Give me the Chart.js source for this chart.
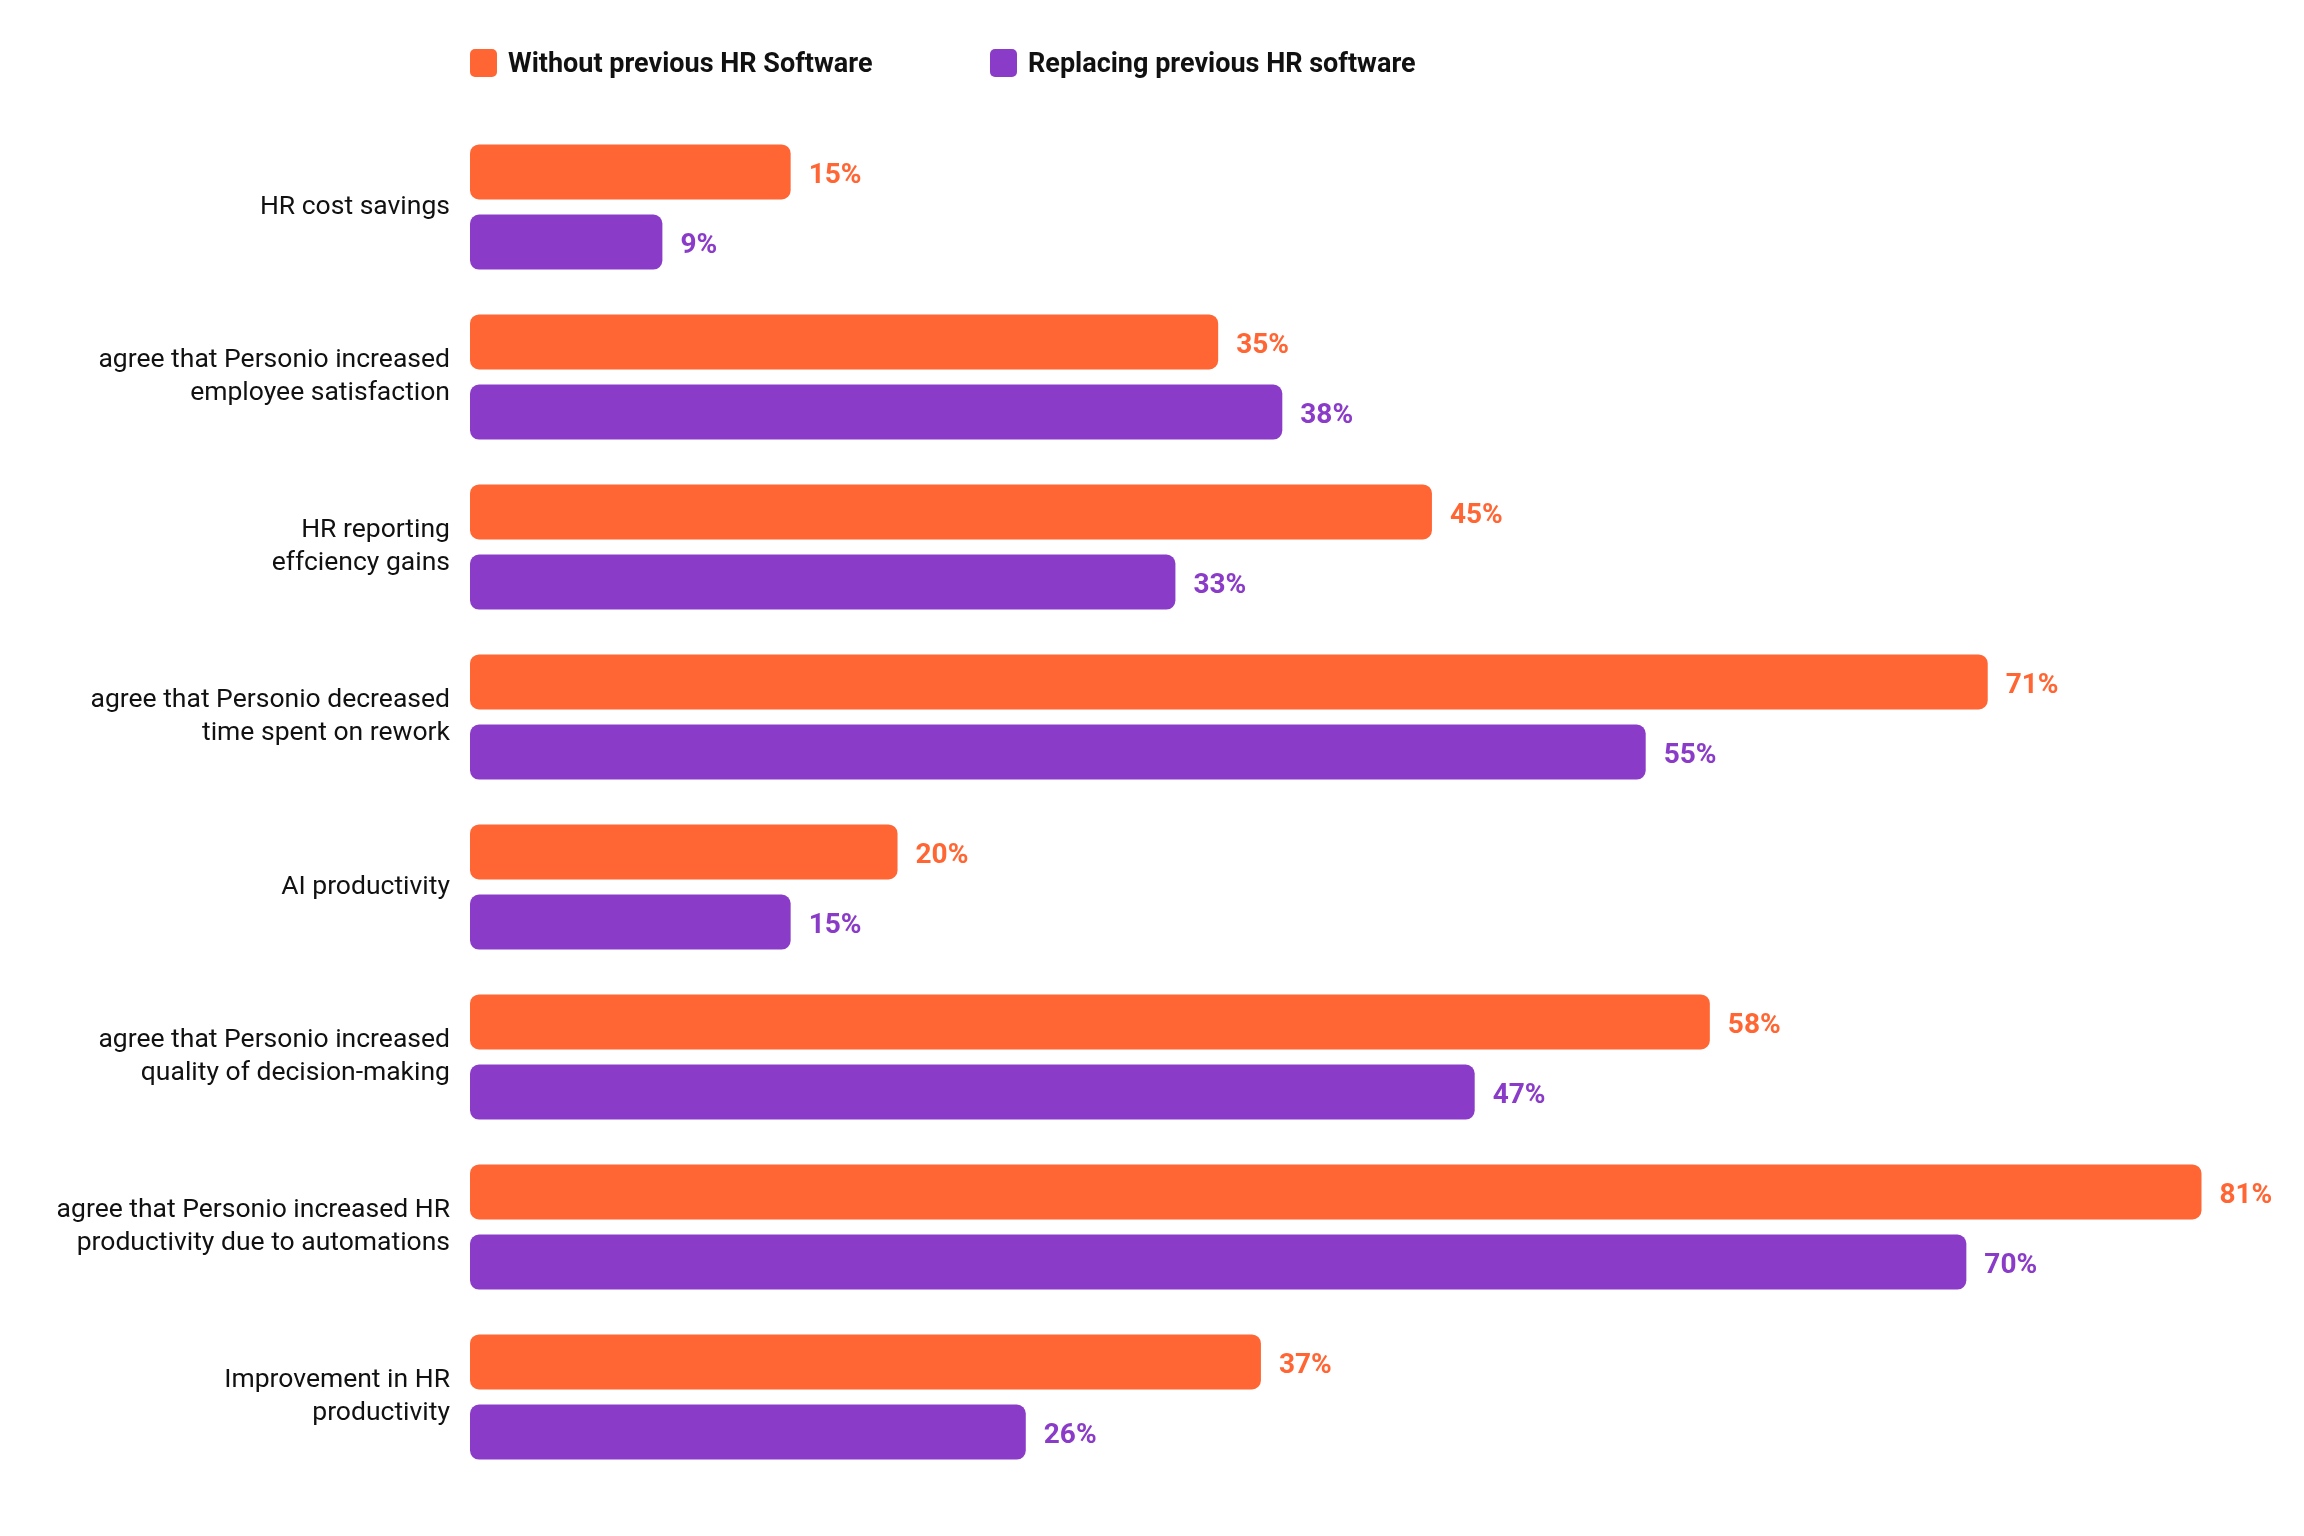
<!DOCTYPE html>
<html>
<head>
<meta charset="utf-8">
<script src="https://cdn.jsdelivr.net/npm/chart.js@4.4.1/dist/chart.umd.min.js"></script>
<style>
  html, body { margin: 0; padding: 0; background: #fff; }
  #wrap { width: 2304px; height: 1536px; position: relative; }
</style>
</head>
<body>
<div id="wrap"><canvas id="hrChart"></canvas></div>
<script>
// Data
const categories = [
  ['HR cost savings'],
  ['agree that Personio increased', 'employee satisfaction'],
  ['HR reporting', 'effciency gains'],
  ['agree that Personio decreased', 'time spent on rework'],
  ['AI productivity'],
  ['agree that Personio increased', 'quality of decision-making'],
  ['agree that Personio increased HR', 'productivity due to automations'],
  ['Improvement in HR', 'productivity'],
];
const seriesNames = ['Without previous HR Software', 'Replacing previous HR software'];
const withoutPrevious = [15, 35, 45, 71, 20, 58, 81, 37];
const replacingPrevious = [9, 38, 33, 55, 15, 47, 70, 26];

const ORANGE = '#FF6634';
const PURPLE = '#8A3CC8';
const TEXT = '#111111';
const FONT = 'Roboto, "Liberation Sans", sans-serif';

// Value labels at the end of each bar
const valueLabels = {
  id: 'valueLabels',
  afterDatasetsDraw(chart) {
    const ctx = chart.ctx;
    ctx.save();
    ctx.font = `bold 28px ${FONT}`;
    ctx.textAlign = 'left';
    ctx.textBaseline = 'middle';
    chart.data.datasets.forEach((ds, di) => {
      const meta = chart.getDatasetMeta(di);
      ctx.fillStyle = ds.backgroundColor;
      meta.data.forEach((bar, i) => {
        ctx.fillText(`${ds.data[i]}%`, bar.x + 18, bar.y + 4);
      });
    });
    ctx.restore();
  },
};

// Legend drawn by hand so the items sit where the original has them
const topLegend = {
  id: 'topLegend',
  afterDraw(chart) {
    const ctx = chart.ctx;
    const left = chart.chartArea.left;
    const items = [
      { x: left, color: ORANGE, text: seriesNames[0] },
      { x: left + 520, color: PURPLE, text: seriesNames[1] },
    ];
    ctx.save();
    ctx.font = `bold 27px ${FONT}`;
    ctx.textBaseline = 'middle';
    items.forEach(it => {
      ctx.fillStyle = it.color;
      ctx.beginPath();
      ctx.roundRect(it.x, 49, 27, 28, 5);
      ctx.fill();
      ctx.fillStyle = TEXT;
      ctx.fillText(it.text, it.x + 38, 65);
    });
    ctx.restore();
  },
};

new Chart(document.getElementById('hrChart'), {
  type: 'bar',
  data: {
    labels: categories,
    datasets: [
      {
        label: seriesNames[0],
        data: withoutPrevious,
        backgroundColor: ORANGE,
      },
      {
        label: seriesNames[1],
        data: replacingPrevious,
        backgroundColor: PURPLE,
      },
    ],
  },
  options: {
    indexAxis: 'y',
    responsive: true,
    maintainAspectRatio: false,
    animation: false,
    datasets: {
      bar: {
        categoryPercentage: 0.824,
        barPercentage: 0.786,
        borderRadius: 9,
        borderSkipped: false,
      },
    },
    layout: { padding: { top: 122, bottom: 54, left: 0, right: 17 } },
    scales: {
      x: {
        display: false,
        min: 0,
        max: 85,
      },
      y: {
        grid: { display: false, drawTicks: false },
        border: { display: false },
        afterFit(scale) { scale.width = 470; },
        ticks: {
          padding: 20,
          color: TEXT,
          font: { family: FONT, size: 26.5, lineHeight: 1.22 },
        },
      },
    },
    plugins: {
      legend: { display: false },
      tooltip: { enabled: false },
    },
  },
  plugins: [valueLabels, topLegend],
});
</script>
</body>
</html>
